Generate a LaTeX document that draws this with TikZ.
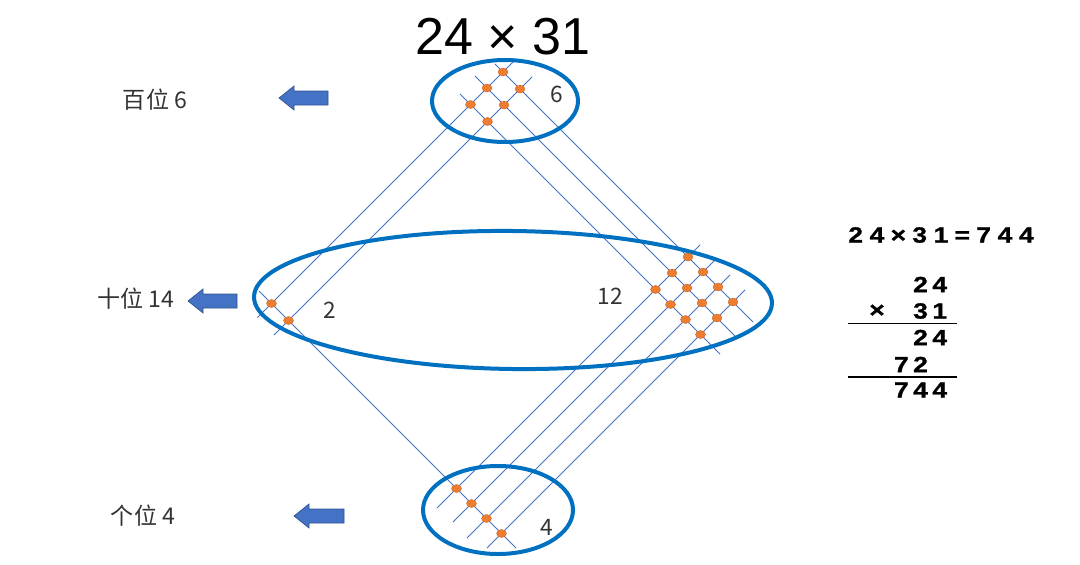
\documentclass[tikz,border=0pt]{standalone}
\usepackage{fontspec}
\usepackage{graphicx}
\setmainfont{Liberation Sans}
\newfontfamily\cjk{Noto Sans CJK SC}
\newfontfamily\calcfont{Liberation Sans Bold}[FakeBold=1]
\definecolor{ellblue}{HTML}{0070C0}
\definecolor{lineblue}{HTML}{4472C4}
\definecolor{dotorange}{HTML}{ED7D31}
\definecolor{arrowblue}{HTML}{4472C4}
\definecolor{arrowedge}{HTML}{2F528F}
\definecolor{darktext}{HTML}{333333}
\newcommand\cw[1]{\makebox[16pt][c]{\scalebox{1.2}[1]{#1}}}
\newcommand\cv[1]{\makebox[14.4pt][c]{\scalebox{1.2}[1]{#1}}}
\newcommand\blockarr[3]{\draw[barrow] (#1,#2) -- ++(15,-12) -- ++(0,5) -- (#3,{#2-7}) -- (#3,{#2+7}) -- ({#1+15},{#2+7}) -- ++(0,5) -- cycle;}
\tikzset{
  ell/.style={draw=ellblue, line width=3pt},
  gline/.style={draw=lineblue, line width=0.55pt},
  odot/.style={fill=dotorange, draw=dotorange!85!black, line width=0.3pt},
  barrow/.style={fill=arrowblue, draw=arrowedge, line width=0.5pt},
  lbl/.style={font=\cjk\fontsize{17.3pt}{19pt}\selectfont, inner sep=0pt, text=darktext},
  num/.style={font=\cjk\fontsize{17pt}{19pt}\selectfont, inner sep=0pt, text=darktext},
  calc/.style={font=\calcfont\fontsize{16.5pt}{19pt}\selectfont, inner sep=0pt, text=black},
  rule/.style={draw=black, line width=1.1pt}
}
\begin{document}
\begin{tikzpicture}[x=0.75pt,y=-0.75pt]
\useasboundingbox (0,0) rectangle (1080,564);
% title
\node[font=\fontsize{39pt}{42pt}\selectfont, inner sep=0pt] (title) at (503,37) {24 × 31};
% "/" lines: points (x, s-x)
\foreach \s/\a/\b in {575/515/257.5, 609/532/274, 945/437/700, 975/453/717, 1005/467/730, 1035/487/745}
  \draw[gline] (\a,{\s-\a}) -- (\b,{\s-\b});
% "\" lines: points (x, x+c)
\foreach \c/\a/\b in {-431/495/753, -399/475/737, -366/460/720, 32/259/516}
  \draw[gline] (\a,{\a+\c}) -- (\b,{\b+\c});
% ellipses
\draw[ell] (505,101) ellipse [x radius=73, y radius=41];
\draw[ell, rotate around={-0.7:(513,300)}] (513,300) ellipse [x radius=259, y radius=69];
\draw[ell] (498,510) ellipse [x radius=75, y radius=44];
% intersection dots
\foreach \s in {575,609,945,975,1005,1035} {
  \foreach \c in {-431,-399,-366,32}
    \fill[odot] ({(\s-(\c))/2},{(\s+(\c))/2}) ellipse [x radius=5, y radius=4];
}
% counts
\node[num] (n6) at (557,94) {6};
\node[num] (n2) at (330,310) {2};
\node[num] (n12) at (610,296) {12};
\node[num] (n4) at (547,527) {4};
% left labels
\node[lbl] (bai) at (155,100) {百位 6};
\node[lbl] (shi) at (136,299) {十位 14};
\node[lbl] (ge) at (143,516) {个位 4};
% arrows
\blockarr{279}{98}{328}
\blockarr{188}{301}{237}
\blockarr{294}{516}{344}
% calculation
\node[calc] (eq) at (941,235) {\cw{2}\cw{4}\cw{×}\cw{3}\cw{1}\cw{=}\cw{7}\cw{4}\cw{4}};
\node[calc, anchor=east] (r1) at (949.6,284.5) {\cv{2}\cv{4}};
\node[calc] (tm) at (877,311) {\scalebox{1.2}[1]{×}};
\node[calc, anchor=east] (r2) at (949.6,311) {\cv{3}\cv{1}};
\draw[rule] (848,323.5) -- (957,323.5);
\node[calc, anchor=east] (r3) at (949.6,337.5) {\cv{2}\cv{4}};
\node[calc, anchor=east] (r4) at (930.4,364.5) {\cv{7}\cv{2}};
\draw[rule] (848,377) -- (957,377);
\node[calc, anchor=east] (r5) at (949.6,390) {\cv{7}\cv{4}\cv{4}};
\end{tikzpicture}
\end{document}
